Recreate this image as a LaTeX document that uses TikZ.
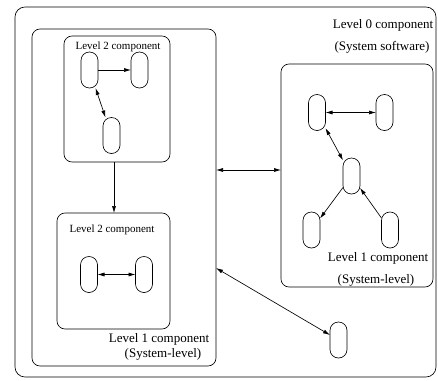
\documentclass[tikz,border=0pt]{standalone}
\usepackage{fontspec}
\setmainfont{Liberation Serif}
\usetikzlibrary{arrows.meta}
\begin{document}
\begin{tikzpicture}[x=1pt,y=-1pt,
  every node/.style={inner sep=0pt, outer sep=0pt},
  comp/.style={draw, line width=0.65pt, minimum width=17pt, minimum height=36pt, rounded corners=8.4pt},
  box/.style={draw, line width=0.65pt, rounded corners=8pt},
  lbl/.style={font=\fontsize{13}{15}\selectfont},
  slbl/.style={font=\fontsize{11}{13}\selectfont},
  conn/.style={line width=0.65pt},
  tip/.tip={Latex[length=7pt,width=4pt]}]
\useasboundingbox (0,0) rectangle (438,380);
% outer level 0 box
\node[box, rounded corners=10pt, minimum width=421pt, minimum height=370pt] (L0) at (225.5,192) {};
\node[lbl] (t0a) at (383,25) {Level 0 component};
\node[lbl] (t0b) at (382,47) {(System software)};
% left level 1 box
\node[box, minimum width=184pt, minimum height=337pt] (L1) at (124,197.5) {};
\node[lbl] (t1a) at (159,339) {Level 1 component};
\node[lbl] (t1b) at (163,354) {(System-level)};
% top level 2 box
\node[box, minimum width=106pt, minimum height=126pt] (L2a) at (117,99) {};
\node[slbl] (t2a) at (118,47) {Level 2 component};
\node[comp] (a1) at (89.5,70) {};
\node[comp] (a2) at (139.5,70) {};
\node[comp] (a3) at (111.5,135.5) {};
% bottom level 2 box
\node[box, minimum width=113pt, minimum height=116pt] (L2b) at (113.5,271) {};
\node[slbl] (t2b) at (112,230) {Level 2 component};
\node[comp] (b1) at (89,274.5) {};
\node[comp] (b2) at (144,274.5) {};
% right level 1 box
\node[box, minimum width=152pt, minimum height=223pt] (R) at (357,175.5) {};
\node[lbl] (tra) at (378,258) {Level 1 component};
\node[lbl] (trb) at (376,280) {(System-level)};
\node[comp] (r1) at (317,112.5) {};
\node[comp] (r2) at (384.5,112.5) {};
\node[comp] (r3) at (351.5,176) {};
\node[comp] (r4) at (311.5,230) {};
\node[comp] (r5) at (390,230) {};
% lone component
\node[comp] (lone) at (338.5,340) {};
% helper coordinates
\coordinate (vx) at (114,0);
\coordinate (c1) at (L1.east |- 0,170);
\coordinate (c2) at (L1.east |- 0,268);
% connectors
\draw[conn,-tip] (a1) -- (a2);
\draw[conn,tip-tip] (a1) -- (a3);
\draw[conn,-tip] (vx |- L2a.south) -- (vx |- L2b.north);
\draw[conn,tip-tip] (b1) -- (b2);
\draw[conn,tip-tip] (r1) -- (r2);
\draw[conn,tip-tip] (r1) -- (r3);
\draw[conn,-tip] (r3) -- (r4);
\draw[conn,-tip] (r5) -- (r3);
\draw[conn,tip-tip] (c1) -- (c1 -| R.west);
\draw[conn,tip-tip] (c2) -- (lone);
\end{tikzpicture}
\end{document}
